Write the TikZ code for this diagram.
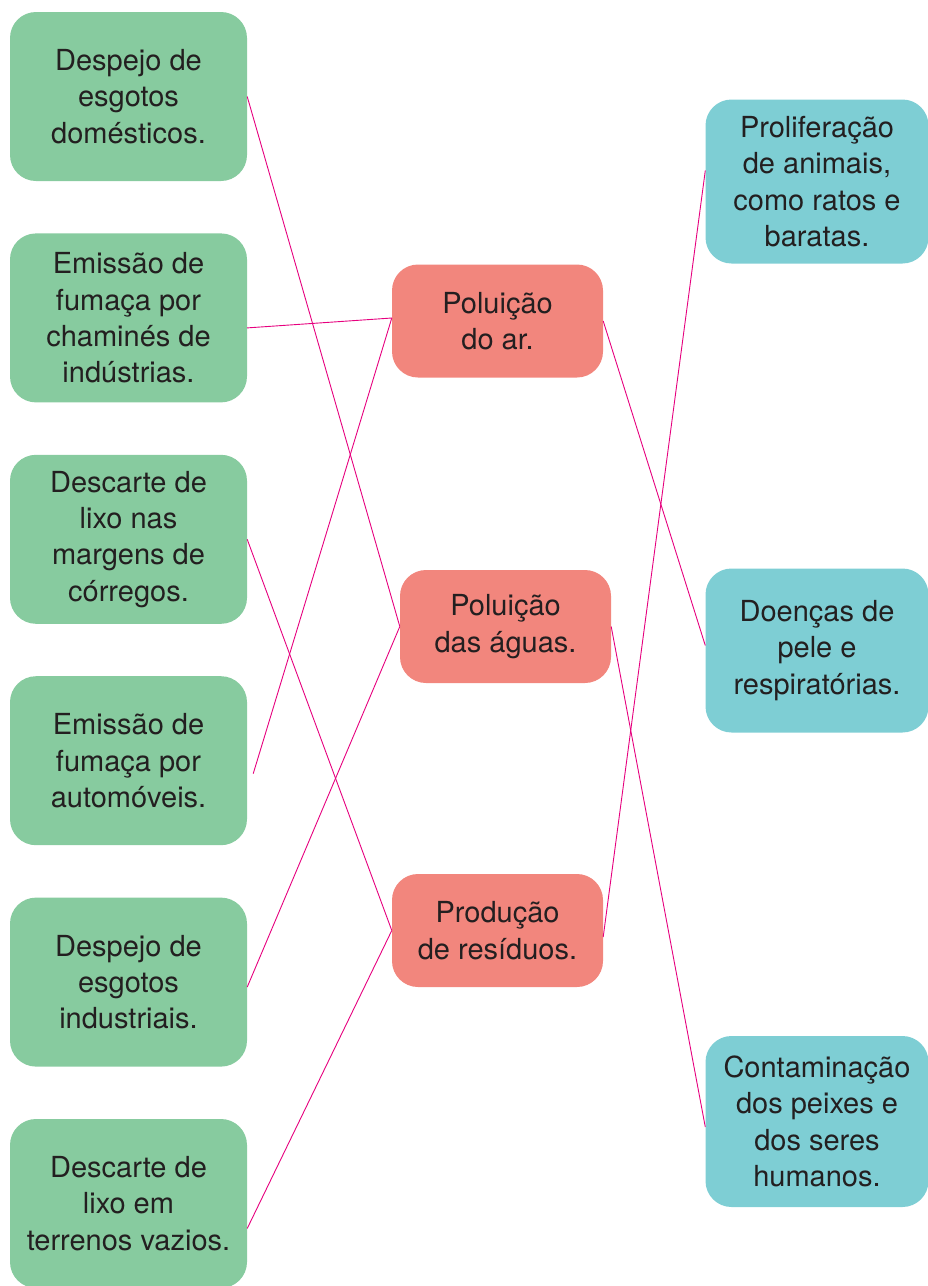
\documentclass[tikz,border=0pt]{standalone}
\usepackage{fontspec}
\setmainfont{TeX Gyre Heros}
\usepackage{xcolor}
\usetikzlibrary{positioning}
\definecolor{causegreen}{HTML}{87CB9F}
\definecolor{probred}{HTML}{F2867D}
\definecolor{effteal}{HTML}{7ECED4}
\definecolor{linkpink}{HTML}{E6007E}
\definecolor{inkgray}{HTML}{231F20}

\begin{document}
\begin{tikzpicture}[
  x=1pt, y=-1pt,
  node distance=52pt,
  card/.style={rounded corners=26pt, inner sep=0pt, align=center, text=inkgray,
               font=\fontsize{29}{36.3}\selectfont},
  cause/.style={card, fill=causegreen, minimum width=237pt, minimum height=169pt},
  prob/.style={card, fill=probred, minimum width=211pt, minimum height=113pt},
  eff/.style={card, fill=effteal, minimum width=223pt, minimum height=164pt},
  link/.style={linkpink, line width=0.9pt}
]
\useasboundingbox (0,0) rectangle (927,1286);

% causas
\node[cause] (g1) at (128.5,96.5) {Despejo de\\ esgotos\\ domésticos.};
\node[cause, below=of g1] (g2) {Emissão de\\ fumaça por\\ chaminés de\\ indústrias.};
\node[cause, below=of g2] (g3) {Descarte de\\ lixo nas\\ margens de\\ córregos.};
\node[cause, below=of g3] (g4) {Emissão de\\ fumaça por\\ automóveis.};
\node[cause, below=of g4] (g5) {Despejo de\\ esgotos\\ industriais.};
\node[cause, below=of g5] (g6) {Descarte de\\ lixo em\\ terrenos vazios.};

% problemas
\node[prob] (ar) at (497.5,321) {Poluição\\ do ar.};
\node[prob] (aguas) at (505.5,626.5) {Poluição\\ das águas.};
\node[prob] (res) at (497.5,930.5) {Produção\\ de resíduos.};

% consequencias
\node[eff] (t1) at (817,181.5) {Proliferação\\ de animais,\\ como ratos e\\ baratas.};
\node[eff] (t2) at (817,650.5) {Doenças de\\ pele e\\ respiratórias.};
\node[eff, minimum height=171pt] (t3) at (817,1121.5) {Contaminação\\ dos peixes e\\ dos seres\\ humanos.};

% ligacoes
\draw[link] (g1.east) -- (aguas.west);
\draw[link] ([yshift=-10pt]g2.east) -- ([yshift=3pt]ar.west);
\draw[link] (g3.east) -- (res.west);
\draw[link] ([shift={(6pt,-13pt)}]g4.east) -- ([yshift=3pt]ar.west);
\draw[link] ([yshift=-5pt]g5.east) -- (aguas.west);
\draw[link] ([yshift=-25pt]g6.east) -- (res.west);
\draw[link] (ar.east) -- ([yshift=5pt]t2.west);
\draw[link] (aguas.east) -- ([yshift=-5.5pt]t3.west);
\draw[link] ([yshift=-6.5pt]res.east) -- ([yshift=11pt]t1.west);
\end{tikzpicture}
\end{document}
